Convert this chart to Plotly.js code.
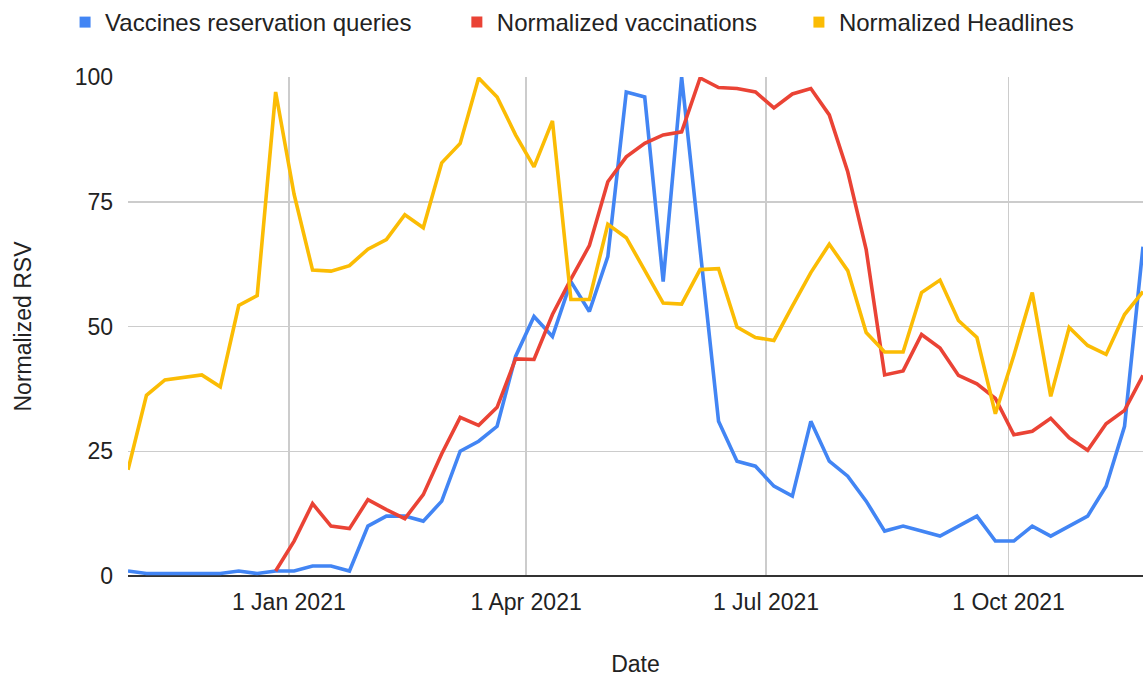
<!DOCTYPE html>
<html>
<head>
<meta charset="utf-8">
<script src="https://cdn.plot.ly/plotly-3.0.1.min.js"></script>
<style>html,body{margin:0;padding:0;background:#fff;}#chart{width:1143px;height:677px;}</style>
</head>
<body>
<div id="chart"></div>
<script>
// Weekly dates (Sundays) starting 1 Nov 2020, 56 weeks
const startDate = "2020-11-01";
const weekCount = 56;

const seriesNames = ["Vaccines reservation queries", "Normalized vaccinations", "Normalized Headlines"];
const seriesColors = ["#4285F4", "#EA4335", "#FBBC04"];

const reservationQueries = [1, 0.5, 0.5, 0.5, 0.5, 0.5, 1, 0.5, 1, 1,
  2, 2, 1, 10, 12, 12, 11, 15, 25, 27,
  30, 44, 52, 48, 59, 53, 64, 97, 96, 59,
  100, 65, 31, 23, 22, 18, 16, 31, 23, 20,
  15, 9, 10, 9, 8, 10, 12, 7, 7, 10,
  8, 10, 12, 18, 30, 66];

const vaccinations = [null, null, null, null, null, null, null, null, 1, 7,
  14.5, 10, 9.5, 15.3, 13.3, 11.5, 16.3, 24.5, 31.8, 30.2,
  33.8, 43.5, 43.4, 52.4, 59.5, 66.2, 79, 84, 86.7, 88.4,
  89, 99.8, 97.9, 97.7, 97, 93.8, 96.6, 97.7, 92.4, 81,
  65.4, 40.3, 41.1, 48.4, 45.7, 40.2, 38.5, 35.6, 28.3, 29,
  31.6, 27.7, 25.2, 30.5, 33.2, 40.2];

const headlines = [21.3, 36.2, 39.3, 39.8, 40.3, 37.9, 54.2, 56.2, 97, 76.5,
  61.3, 61.1, 62.2, 65.5, 67.4, 72.4, 69.8, 82.8, 86.7, 99.8,
  96, 88.4, 82, 91.2, 55.4, 55.4, 70.5, 67.8, 61.2, 54.7,
  54.5, 61.4, 61.6, 49.9, 47.8, 47.2, 54.1, 60.8, 66.5, 61.2,
  48.8, 44.9, 44.9, 56.8, 59.3, 51.2, 47.8, 32.5, 44.2, 56.8,
  36, 49.8, 46.2, 44.4, 52.4, 57];

const xTickVals = ["2021-01-01", "2021-04-01", "2021-07-01", "2021-10-01"];
const xTickText = ["1 Jan 2021", "1 Apr 2021", "1 Jul 2021", "1 Oct 2021"];
const yTickVals = [0, 25, 50, 75, 100];

function weekDates(start, n) {
  const out = [];
  const d0 = new Date(start + "T00:00:00Z");
  for (let i = 0; i < n; i++) {
    const d = new Date(d0.getTime() + i * 7 * 86400000);
    out.push(d.toISOString().slice(0, 10));
  }
  return out;
}
const dates = weekDates(startDate, weekCount);
const allSeries = [reservationQueries, vaccinations, headlines];

const FONT = "Liberation Sans, Arial, sans-serif";
const legendIds = ["legend", "legend2", "legend3"];
const legendX = [-0.062, 0.324, 0.661];

const traces = [];
allSeries.forEach((ys, k) => {
  traces.push({
    x: dates, y: ys, type: "scatter", mode: "lines",
    line: {color: seriesColors[k], width: 3.6},
    showlegend: false, hoverinfo: "skip"
  });
});
// legend entries (square swatches), one legend per entry for exact placement
seriesNames.forEach((name, k) => {
  traces.push({
    x: [null], y: [null], type: "scatter", mode: "markers", name: name,
    marker: {symbol: "square", size: 11, color: seriesColors[k]},
    showlegend: true, legend: legendIds[k]
  });
});

const layout = {
  width: 1143, height: 677,
  margin: {l: 128, r: 0, t: 75, b: 101, pad: 0},
  paper_bgcolor: "#fff", plot_bgcolor: "#fff",
  font: {family: FONT, size: 23, color: "#222"},
  showlegend: true,
  xaxis: {
    type: "date",
    range: [dates[0], dates[dates.length - 1]],
    tickmode: "array", tickvals: xTickVals, ticktext: xTickText,
    showgrid: true, gridcolor: "#cccccc", gridwidth: 1.5,
    zeroline: false, showline: false, ticks: "",
    ticklabelstandoff: 10,
    tickfont: {family: FONT, size: 23, color: "#222"},
    title: {text: "Date", font: {family: FONT, size: 23, color: "#222"}, standoff: 45},
    automargin: false, fixedrange: true
  },
  yaxis: {
    range: [0, 100],
    tickmode: "array", tickvals: yTickVals,
    showgrid: true, gridcolor: "#cccccc", gridwidth: 1.5,
    zeroline: true, zerolinecolor: "#333333", zerolinewidth: 2,
    showline: false, ticks: "",
    ticklabelstandoff: 14,
    tickfont: {family: FONT, size: 23, color: "#222"},
    title: {text: "Normalized RSV", font: {family: FONT, size: 23, color: "#222"}, standoff: 36},
    automargin: false, fixedrange: true
  }
};
legendIds.forEach((id, k) => {
  layout[id] = {
    orientation: "h", x: legendX[k], xanchor: "left", y: 1.11, yanchor: "middle",
    font: {family: FONT, size: 24, color: "#222"},
    itemwidth: 30, bgcolor: "rgba(0,0,0,0)"
  };
});

Plotly.newPlot("chart", traces, layout, {displayModeBar: false, staticPlot: true});
</script>
</body>
</html>
